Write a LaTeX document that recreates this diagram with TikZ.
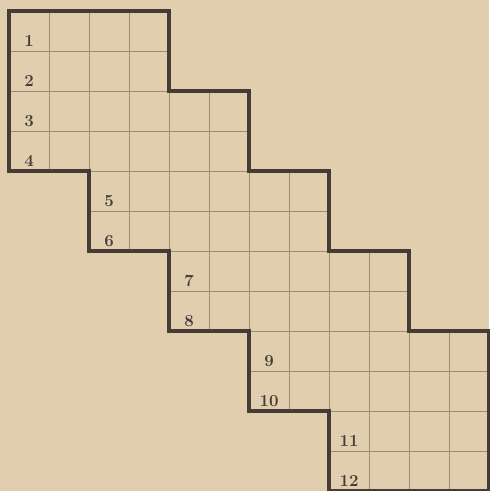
\documentclass[tikz,border=0pt]{standalone}
\definecolor{paper}{RGB}{224,206,174}
\definecolor{ink}{RGB}{70,60,54}
\definecolor{rule}{RGB}{160,140,116}
\begin{document}
\begin{tikzpicture}[x=1cm, y=1cm,
    border/.style={draw=ink, line width=3.2pt, line join=miter},
    cellline/.style={draw=rule, line width=0.6pt},
    rowlabel/.style={text=ink, font=\bfseries\fontsize{12}{14}\selectfont, inner sep=0pt}]
    % paper and frame
    \fill[paper] (-0.225,0.275) rectangle (12.0,-12.0);
    \useasboundingbox (-0.225,0.275) rectangle (12.0,-12.0);

    % staircase of squares
    \begin{scope}
        \clip (0,0) -- (4,0) -- (4,-2) -- (6,-2) -- (6,-4) -- (8,-4) -- (8,-6) -- (10,-6) -- (10,-8) -- (12,-8)
            -- (12,-12) -- (8,-12) -- (8,-10) -- (6,-10) -- (6,-8) -- (4,-8) -- (4,-6) -- (2,-6) -- (2,-4) -- (0,-4) -- cycle;
        \draw[cellline] (0,-12) grid[step=1] (12,0);
    \end{scope}
    \draw[border] (0,0) -- (4,0) -- (4,-2) -- (6,-2) -- (6,-4) -- (8,-4) -- (8,-6) -- (10,-6) -- (10,-8) -- (12,-8)
        -- (12,-12) -- (8,-12) -- (8,-10) -- (6,-10) -- (6,-8) -- (4,-8) -- (4,-6) -- (2,-6) -- (2,-4) -- (0,-4) -- cycle;

    % row numbers
    \foreach \r/\c in {1/0,2/0,3/0,4/0,5/2,6/2,7/4,8/4,9/6,10/6,11/8,12/8}
        \node[rowlabel] (row\r) at (\c+0.5,-\r+0.26) {\r};
\end{tikzpicture}
\end{document}
